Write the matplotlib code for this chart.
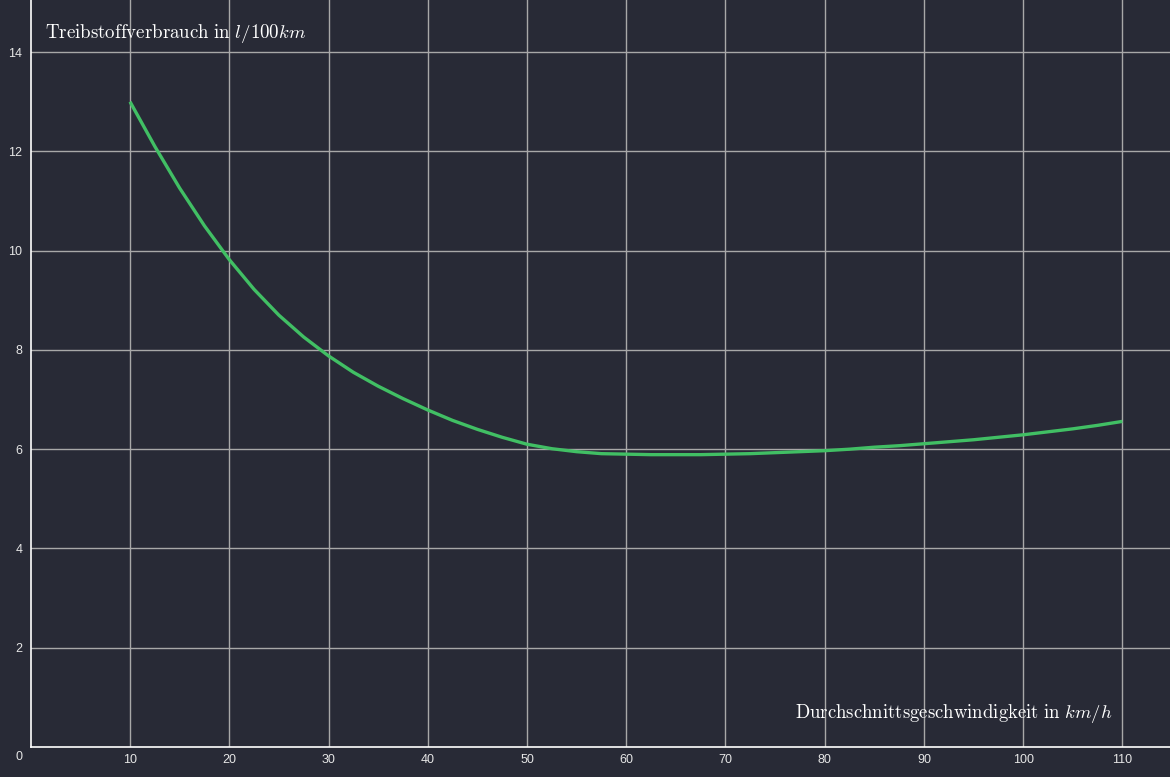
import matplotlib
matplotlib.use("Agg")
import matplotlib.pyplot as plt

# Data
speed = [10, 12.5, 15, 17.5, 20, 22.5, 25, 27.5, 30, 32.5, 35, 37.5, 40, 42.5, 45, 47.5, 50,
         52.5, 55, 57.5, 60, 62.5, 65, 67.5, 70, 72.5, 75, 77.5, 80, 82.5, 85, 87.5, 90,
         92.5, 95, 97.5, 100, 102.5, 105, 107.5, 110]
consumption = [13.0, 12.10, 11.26, 10.50, 9.82, 9.22, 8.70, 8.26, 7.88, 7.55, 7.27, 7.02, 6.79,
               6.58, 6.40, 6.24, 6.10, 6.01, 5.95, 5.91, 5.90, 5.89, 5.89, 5.89, 5.90, 5.91,
               5.93, 5.95, 5.97, 6.00, 6.04, 6.07, 6.11, 6.15, 6.19, 6.24, 6.29, 6.35, 6.41,
               6.48, 6.56]
x_ticks = [10, 20, 30, 40, 50, 60, 70, 80, 90, 100, 110]
y_ticks = [2, 4, 6, 8, 10, 12, 14]
y_label = r'$\mathrm{Treibstoffverbrauch\ in\ }l/100km$'
x_label = r'$\mathrm{Durchschnittsgeschwindigkeit\ in\ }km/h$'

BG = '#282a36'
plt.rcParams['mathtext.fontset'] = 'cm'
plt.rcParams['font.family'] = ['Liberation Sans', 'DejaVu Sans']

fig = plt.figure(figsize=(11.7, 7.77), dpi=100, facecolor=BG)
ax = fig.add_axes([30.8 / 1170, 30 / 777, 1 - 30.8 / 1170, 1 - 30 / 777])
ax.set_facecolor(BG)

ax.plot(speed, consumption, color='#41bf64', lw=2.4, solid_capstyle='butt',
        solid_joinstyle='round', zorder=3)

ax.set_xlim(0, 114.8)
ax.set_ylim(0, 15.05)
ax.set_xticks(x_ticks)
ax.set_yticks(y_ticks)
ax.grid(True, color='#a8a8a8', lw=1.0, zorder=1)
ax.set_axisbelow(True)
ax.tick_params(length=0, colors='#e6e6e6', labelsize=9)
ax.tick_params(axis='x', pad=5)
ax.tick_params(axis='y', pad=6)
for s in ['top', 'right']:
    ax.spines[s].set_visible(False)
for s in ['left', 'bottom']:
    ax.spines[s].set_color('white')
    ax.spines[s].set_linewidth(1.2)

ax.text(1.45, 14.28, y_label, color='white', fontsize=13.6, va='baseline', ha='left')
ax.text(109.0, 0.58, x_label, color='white', fontsize=13.5, va='baseline', ha='right')
fig.text(19 / 1170, 1 - 757 / 777, '0', color='#e6e6e6', fontsize=9, ha='center', va='center')

fig.savefig('out.png', dpi=100, facecolor=BG)
